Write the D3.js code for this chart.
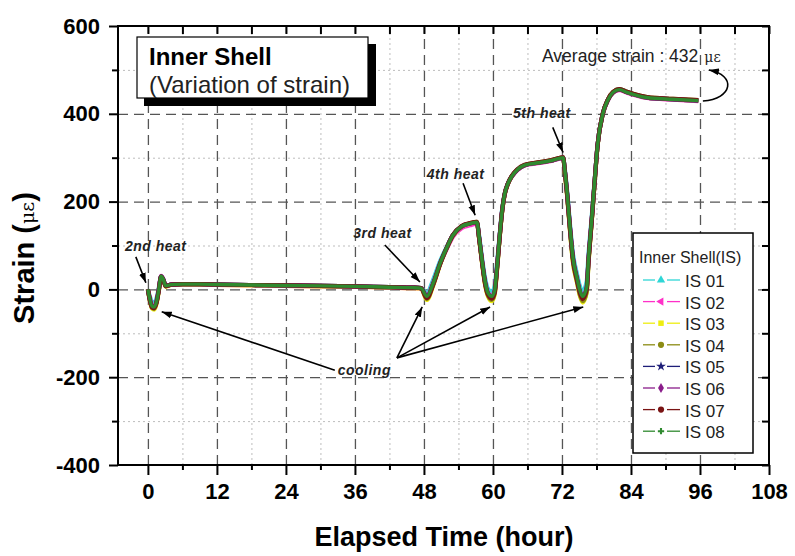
<!DOCTYPE html>
<html>
<head>
<meta charset="utf-8">
<script src="https://cdn.jsdelivr.net/npm/d3@7"></script>
<style>
  body { margin: 0; background: #fff; }
  svg { display: block; font-family: "Liberation Sans", Arial, sans-serif; }
</style>
</head>
<body>
<svg id="chart" width="795" height="556"></svg>
<script>
// elapsed time (hour) of the sampled points
let hours = [0, 0.3, 0.7, 1.1, 1.5, 1.9, 2.3, 2.7, 3.1,
  4, 6, 9, 12, 18, 24, 30, 36, 42, 46, 47.5,
  48.5, 49.6, 50.8, 52, 53, 54.6, 56, 57.2,
  57.6, 58.1, 58.6, 59.1, 59.8, 60.3, 60.7, 61.2, 61.6, 62.0, 62.6,
  63.3, 64.2, 65.5, 68.2, 70, 72.2,
  72.5, 72.9, 73.4, 73.9, 74.6, 75.1, 75.6, 76.3, 76.6, 77.2,
  77.7, 78.2, 79.1, 80, 80.9, 82, 83.3, 86.8, 91.3, 95.7];

// strain (micro-strain) for each gauge
let is01 = [0, -14, -28, -30, -20, 4, 30, 22, 8,
  11, 12, 12, 11, 10, 9, 8, 7, 5, 4, 3,
  -8, 22, 64, 98, 123, 144, 150, 153,
  122, 72, 28, 2, -6, 8, 58, 130, 183, 216, 241,
  258, 272, 283, 289, 293, 300,
  274, 224, 148, 82, 36, 8, -5, 18, 78, 170,
  252, 330, 400, 432, 449, 456, 450, 437, 433, 430];
let is02 = [0, -18, -36, -38, -26, 2, 31, 22, 8,
  11, 12, 11, 10, 9, 8, 7, 6, 4, 3, 2,
  -14, 15, 58, 93, 119, 140, 146, 150,
  117, 66, 20, -6, -15, -2, 50, 126, 179, 214, 240,
  257, 271, 282, 288, 292, 299,
  271, 219, 141, 73, 27, -3, -15, 5, 66, 164,
  250, 330, 399, 431, 448, 454, 448, 436, 432, 429];
let is03 = [0, -24, -43, -46, -33, -4, 28, 20, 6,
  10, 11, 11, 10, 9, 8, 7, 6, 4, 3, 2,
  -24, 8, 56, 95, 122, 143, 150, 153,
  114, 60, 12, -15, -27, -12, 42, 122, 177, 213, 240,
  258, 272, 283, 289, 293, 300,
  266, 212, 132, 62, 16, -14, -30, -8, 55, 158,
  246, 328, 399, 432, 449, 455, 449, 437, 433, 430];
let is04 = [0, -23, -42, -44, -31, -2, 29, 21, 7,
  10, 12, 12, 11, 10, 9, 8, 7, 5, 4, 3,
  -22, 10, 57, 95, 122, 144, 151, 154,
  115, 62, 14, -13, -24, -10, 44, 123, 178, 214, 240,
  258, 272, 283, 290, 294, 301,
  267, 214, 134, 64, 18, -12, -27, -6, 58, 160,
  247, 329, 400, 433, 450, 456, 450, 438, 434, 431];
let is05 = [0, -20, -38, -40, -28, 0, 30, 22, 8,
  11, 12, 12, 11, 10, 9, 8, 7, 5, 4, 3,
  -17, 13, 59, 96, 123, 144, 150, 153,
  118, 65, 19, -8, -18, -4, 49, 126, 180, 215, 241,
  258, 272, 283, 289, 293, 300,
  270, 218, 140, 72, 25, -4, -18, 3, 64, 163,
  249, 330, 400, 432, 449, 455, 449, 437, 433, 430];
let is06 = [0, -21, -39, -41, -29, -1, 30, 22, 8,
  11, 12, 12, 11, 10, 9, 8, 7, 5, 4, 3,
  -18, 12, 58, 96, 123, 144, 150, 153,
  117, 64, 18, -9, -19, -5, 48, 125, 179, 215, 241,
  258, 272, 283, 289, 293, 300,
  270, 217, 139, 71, 24, -5, -19, 2, 63, 162,
  249, 330, 400, 432, 449, 455, 449, 437, 433, 430];
let is07 = [0, -22, -41, -43, -30, -2, 29, 21, 7,
  11, 12, 12, 11, 10, 9, 8, 7, 5, 4, 3,
  -20, 11, 58, 96, 123, 145, 151, 154,
  116, 63, 16, -11, -21, -7, 46, 124, 179, 215, 241,
  259, 273, 284, 290, 294, 301,
  269, 216, 137, 69, 22, -7, -22, 0, 61, 161,
  248, 330, 401, 433, 450, 456, 450, 438, 434, 431];
let is08 = [0, -20, -38, -40, -28, 0, 30, 22, 8,
  11, 12, 12, 11, 10, 9, 8, 7, 5, 4, 3,
  -16, 14, 59, 96, 123, 144, 150, 153,
  118, 66, 20, -7, -16, -2, 50, 127, 180, 215, 241,
  258, 272, 283, 289, 293, 300,
  271, 219, 141, 73, 27, -2, -16, 5, 66, 164,
  250, 330, 400, 432, 449, 455, 449, 437, 433, 430];

let seriesNames = ["IS 01", "IS 02", "IS 03", "IS 04", "IS 05", "IS 06", "IS 07", "IS 08"];
let seriesValues = [is01, is02, is03, is04, is05, is06, is07, is08];

let xTicks = [0, 12, 24, 36, 48, 60, 72, 84, 96, 108];
let xMinor = [6, 18, 30, 42, 54, 66, 78, 90, 102];
let yTicks = [-400, -200, 0, 200, 400, 600];
let yMinor = [-300, -100, 100, 300, 500];

// annotations, placed in data units
let heatNotes = [
  { text: "2nd heat", at: [-4.0, 87], from: [-2.1, 74], to: [-0.35, 15] },
  { text: "3rd heat", at: [35.7, 117], from: [41.2, 101], to: [47.3, 17] },
  { text: "4th heat", at: [48.5, 251], from: [54.8, 242], to: [56.9, 169] },
  { text: "5th heat", at: [63.5, 390], from: [70.4, 369], to: [72.2, 312] }
];
let coolingTips = [[47.7, -40], [59.5, -40], [75.7, -40]];

let colors = ["#2fd6d6", "#ff30c8", "#eeee10", "#8c8c14", "#1e1e78", "#8a1c8a", "#7a1414", "#2f8a2f"];
let symbols = [d3.symbolTriangle, d3.symbolTriangle, d3.symbolSquare, d3.symbolCircle,
  d3.symbolStar, d3.symbolDiamond, d3.symbolCircle, d3.symbolCross];

let svg = d3.select("#chart");
let pLeft = 118, pRight = 769, pTop = 26, pBottom = 465;

let x = d3.scaleLinear().domain([-5.2, 108]).range([pLeft, pRight]);
let y = d3.scaleLinear().domain([-400, 600]).range([pBottom, pTop]);

svg.append("defs").append("marker")
  .attr("id", "ah")
  .attr("viewBox", "0 0 10 10")
  .attr("refX", 10).attr("refY", 5)
  .attr("markerWidth", 10).attr("markerHeight", 10)
  .attr("markerUnits", "userSpaceOnUse")
  .attr("orient", "auto")
  .append("path").attr("d", "M0,1.6 L10,5 L0,8.4 z").attr("fill", "#000");

// grid
function grid(axis) {
  let g = svg.append("g").call(axis);
  g.select(".domain").remove();
  return g;
}
let minorStyle = g => g.selectAll("line").attr("stroke", "#bdbdbd").attr("stroke-width", 1).attr("stroke-dasharray", "2,3");
let majorStyle = g => g.selectAll("line").attr("stroke", "#555").attr("stroke-width", 1.3).attr("stroke-dasharray", "10,6");

grid(d3.axisBottom(x).tickValues(xMinor).tickSize(-(pBottom - pTop)).tickFormat(""))
  .attr("transform", "translate(0," + pBottom + ")").call(minorStyle);
grid(d3.axisLeft(y).tickValues(yMinor).tickSize(-(pRight - pLeft)).tickFormat(""))
  .attr("transform", "translate(" + pLeft + ",0)").call(minorStyle);
grid(d3.axisBottom(x).tickValues(xTicks.slice(0, -1)).tickSize(-(pBottom - pTop)).tickFormat(""))
  .attr("transform", "translate(0," + pBottom + ")").call(majorStyle);
grid(d3.axisLeft(y).tickValues(yTicks.slice(1, -1)).tickSize(-(pRight - pLeft)).tickFormat(""))
  .attr("transform", "translate(" + pLeft + ",0)").call(majorStyle);

// series
let line = d3.line()
  .x((d, i) => x(hours[i]))
  .y(d => y(d))
  .curve(d3.curveMonotoneX);

seriesValues.forEach((vals, i) => {
  svg.append("path")
    .datum(vals)
    .attr("fill", "none")
    .attr("stroke", colors[i])
    .attr("stroke-width", i === 7 ? 3.4 : 4.2)
    .attr("stroke-linejoin", "round")
    .attr("d", line);
});

// frame
svg.append("rect")
  .attr("x", pLeft).attr("y", pTop)
  .attr("width", pRight - pLeft).attr("height", pBottom - pTop)
  .attr("fill", "none").attr("stroke", "#000").attr("stroke-width", 2);

// axes
function tickAxis(axis, tr) {
  let g = svg.append("g").attr("transform", tr).call(axis);
  g.select(".domain").remove();
  g.selectAll("line").attr("stroke", "#000").attr("stroke-width", 2);
  return g;
}

let plain = d => String(d);
let xAxis = tickAxis(d3.axisBottom(x).tickValues(xTicks).tickFormat(plain).tickSize(10).tickPadding(8), "translate(0," + pBottom + ")");
tickAxis(d3.axisBottom(x).tickValues(xMinor).tickSize(5).tickFormat(""), "translate(0," + pBottom + ")");
let yAxis = tickAxis(d3.axisLeft(y).tickValues(yTicks).tickFormat(plain).tickSize(9).tickPadding(9), "translate(" + pLeft + ",0)");
tickAxis(d3.axisLeft(y).tickValues(yMinor).tickSize(6).tickFormat(""), "translate(" + pLeft + ",0)");
tickAxis(d3.axisTop(x).tickValues(xTicks.concat(xMinor)).tickSize(-8).tickFormat(""), "translate(0," + pTop + ")");
tickAxis(d3.axisRight(y).tickValues(yTicks.concat(yMinor)).tickSize(-7).tickFormat(""), "translate(" + pRight + ",0)");

[xAxis, yAxis].forEach(g => {
  g.selectAll("text")
    .attr("fill", "#000")
    .style("font-family", "'Liberation Sans', Arial, sans-serif")
    .style("font-size", "22px")
    .style("font-weight", "bold");
});

// axis titles
svg.append("text")
  .attr("x", 444).attr("y", 546)
  .attr("text-anchor", "middle")
  .style("font-size", "27px").style("font-weight", "bold")
  .text("Elapsed Time (hour)");

let yt = svg.append("text")
  .attr("transform", "translate(34,258) rotate(-90)")
  .attr("text-anchor", "middle")
  .style("font-size", "29px").style("font-weight", "bold");
yt.append("tspan").text("Strain (");
yt.append("tspan").style("font-family", "'DejaVu Serif', serif").style("font-size", "19px").style("font-weight", "normal").text("με");
yt.append("tspan").text(")");

// title box
svg.append("rect").attr("x", 144).attr("y", 44).attr("width", 232).attr("height", 62).attr("fill", "#000");
svg.append("rect").attr("x", 137).attr("y", 37).attr("width", 231).attr("height", 61)
  .attr("fill", "#fff").attr("stroke", "#000").attr("stroke-width", 1.2);
svg.append("text").attr("x", 149).attr("y", 65)
  .style("font-size", "24px").style("font-weight", "bold").text("Inner Shell");
svg.append("text").attr("x", 149).attr("y", 93)
  .style("font-size", "24px").attr("fill", "#222").text("(Variation of strain)");

// legend
let lg = svg.append("g");
lg.append("rect").attr("x", 633).attr("y", 233).attr("width", 120).attr("height", 220)
  .attr("fill", "#fff").attr("stroke", "#000").attr("stroke-width", 1.5);
lg.append("text").attr("x", 639).attr("y", 263)
  .style("font-size", "16px").attr("fill", "#222").text("Inner Shell(IS)");
seriesNames.forEach((name, i) => {
  let by = 287 + i * 21.6;
  let ly = by - 7;
  lg.append("line").attr("x1", 643).attr("x2", 655).attr("y1", ly).attr("y2", ly)
    .attr("stroke", colors[i]).attr("stroke-width", 1.3);
  lg.append("line").attr("x1", 667).attr("x2", 680).attr("y1", ly).attr("y2", ly)
    .attr("stroke", colors[i]).attr("stroke-width", 1.3);
  lg.append("path")
    .attr("d", d3.symbol().type(symbols[i]).size(i === 7 ? 22 : 30)())
    .attr("transform", "translate(661," + ly + ")" + (i === 1 ? " rotate(-90)" : ""))
    .attr("fill", colors[i]);
  lg.append("text").attr("x", 685).attr("y", by)
    .style("font-size", "17px").attr("fill", "#222").text(name);
});

// heat annotations
heatNotes.forEach(n => {
  svg.append("text")
    .attr("x", x(n.at[0])).attr("y", y(n.at[1]))
    .style("font-size", "14px").style("font-style", "italic").style("font-weight", "bold")
    .style("letter-spacing", "0.5px").attr("fill", "#222")
    .text(n.text);
  svg.append("line")
    .attr("x1", x(n.from[0])).attr("y1", y(n.from[1]))
    .attr("x2", x(n.to[0])).attr("y2", y(n.to[1]))
    .attr("stroke", "#000").attr("stroke-width", 1.6)
    .attr("marker-end", "url(#ah)");
});

// cooling
svg.append("text")
  .attr("x", x(33.0)).attr("y", y(-195))
  .style("font-size", "14px").style("font-style", "italic").style("font-weight", "bold")
  .style("letter-spacing", "0.5px").attr("fill", "#222")
  .text("cooling");
coolingTips.forEach(t => {
  svg.append("line")
    .attr("x1", x(43.3)).attr("y1", y(-156))
    .attr("x2", x(t[0])).attr("y2", y(t[1]))
    .attr("stroke", "#000").attr("stroke-width", 1.6)
    .attr("marker-end", "url(#ah)");
});
svg.append("line")
  .attr("x1", x(32.5)).attr("y1", y(-184))
  .attr("x2", x(2.4)).attr("y2", y(-51))
  .attr("stroke", "#000").attr("stroke-width", 1.6)
  .attr("marker-end", "url(#ah)");

// average strain
let avg = svg.append("text").attr("x", 542).attr("y", 62).style("font-size", "17.5px").attr("fill", "#222");
avg.append("tspan").text("Average strain : 432");
avg.append("tspan").attr("dx", 6).style("font-family", "'DejaVu Serif', serif").style("font-size", "14px").text("με");
let ax = x(96.5), ay = y(429);
svg.append("path")
  .attr("d", "M" + ax + "," + ay + " C" + (ax + 30) + "," + (ay - 2) + " " + (ax + 34) + "," + (ay - 26) + " " + (ax + 6) + "," + (ay - 31))
  .attr("fill", "none").attr("stroke", "#000").attr("stroke-width", 1.6)
  .attr("marker-end", "url(#ah)");
</script>
</body>
</html>
